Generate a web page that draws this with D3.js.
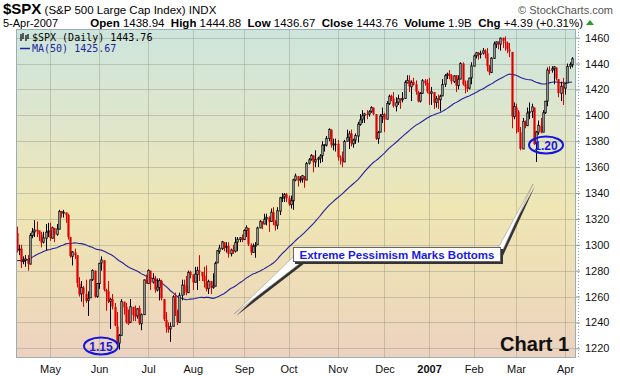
<!DOCTYPE html>
<html lang="en">
<head>
<meta charset="UTF-8" />
<script src="https://d3js.org/d3.v7.min.js"></script>
<title>$SPX Daily</title>
<style>
  body { margin: 0; background: #fff; }
  svg { display: block; font-family: "Liberation Sans", Arial, sans-serif; }
</style>
</head>
<body>
<svg width="620" height="376"></svg>
<script>
// daily bars, 7-Apr-2006 .. 5-Apr-2007 (one row per month)
const opens = [
  1309,1296,1297,1287,1288,1289,1285,1307,1310,1311,1311,1308,1302,1305,1310,
  1311,1305,1313,1308,1312,1326,1325,1325,1323,1306,1291,1294,1292,1270,1262,1267,1262,1257,1259,1273,1280,1260,
  1270,1286,1288,1265,1264,1256,1258,1252,1237,1224,1230,1256,1252,1240,1240,1252,1246,1245,1251,1239,1246,1273,
  1270,1280,1271,1274,1265,1267,1272,1258,1242,1236,1235,1237,1260,1249,1240,1261,1269,1268,1263,1279,
  1277,1271,1277,1280,1279,1276,1271,1266,1272,1267,1268,1286,1295,1297,1302,1298,1299,1293,1296,1295,1302,1304,1305,
  1304,1311,1313,1300,1294,1299,1300,1313,1318,1316,1320,1321,1318,1325,1318,1315,1326,1336,1337,1339,
  1336,1331,1334,1350,1353,1350,1351,1353,1350,1363,1366,1369,1364,1366,1367,1369,1377,1377,1382,1389,1377,1378,
  1378,1368,1367,1364,1380,1383,1386,1378,1381,1384,1393,1397,1400,1401,1401,1403,1406,1401,1382,1387,1399,
  1401,1397,1409,1415,1413,1407,1410,1413,1412,1413,1425,1427,1422,1426,1424,1418,1411,1417,1427,1425,
  1418,1417,1418,1410,1413,1412,1415,1424,1431,1432,1431,1426,1431,1423,1428,1440,1424,1422,1421,1429,
  1438,1446,1448,1447,1448,1450,1448,1438,1433,1444,1455,1457,1455,1460,1457,1456,1451,1449,1399,
  1406,1403,1387,1374,1395,1392,1402,1403,1406,1378,1387,1392,1387,1402,1411,1435,1435,1436,1437,1428,1417,1422,
  1421,1425,1438,1439
];
const highs = [
  1314,1300,1300,1291,1292,1292,1309,1313,1319,1318,1311,1310,1310,1316,1317,
  1317,1314,1313,1316,1327,1326,1327,1325,1324,1306,1295,1297,1292,1275,1272,1268,1273,1264,1273,1281,1280,1270,
  1286,1291,1288,1266,1272,1259,1262,1255,1248,1231,1258,1256,1255,1250,1258,1252,1253,1251,1253,1247,1273,1277,
  1281,1280,1278,1276,1274,1274,1273,1258,1248,1240,1240,1261,1263,1250,1263,1273,1273,1276,1280,1280,
  1277,1283,1283,1292,1279,1283,1284,1273,1272,1278,1287,1296,1300,1303,1302,1302,1302,1297,1300,1306,1306,1306,1308,
  1312,1315,1313,1301,1301,1302,1314,1319,1318,1324,1324,1322,1328,1329,1319,1329,1337,1340,1340,1340,
  1338,1338,1351,1355,1353,1353,1354,1353,1364,1367,1370,1369,1373,1368,1370,1380,1377,1384,1390,1389,1382,1382,
  1381,1369,1372,1381,1389,1388,1389,1382,1386,1395,1401,1404,1402,1404,1404,1407,1406,1401,1388,1401,1406,
  1402,1411,1416,1416,1418,1414,1416,1413,1418,1427,1431,1431,1427,1429,1427,1419,1418,1428,1428,1428,
  1429,1422,1418,1415,1416,1416,1428,1432,1433,1435,1432,1431,1431,1431,1441,1441,1427,1427,1429,1441,
  1447,1449,1449,1450,1452,1451,1452,1439,1445,1457,1457,1457,1460,1460,1461,1457,1456,1449,1410,
  1409,1404,1391,1398,1396,1406,1410,1409,1406,1388,1396,1398,1404,1411,1437,1438,1438,1438,1437,1428,1426,1429,
  1425,1440,1441,1445
];
const lows = [
  1294,1292,1282,1285,1283,1280,1285,1305,1306,1306,1303,1298,1301,1296,1306,
  1303,1305,1302,1307,1312,1321,1321,1317,1304,1290,1284,1289,1267,1260,1256,1252,1255,1245,1259,1272,1259,1259,
  1266,1280,1264,1249,1255,1235,1250,1237,1223,1219,1230,1246,1239,1238,1240,1241,1241,1243,1238,1234,1246,1270,
  1270,1265,1270,1263,1264,1257,1257,1241,1232,1232,1225,1237,1245,1238,1240,1257,1261,1261,1263,1274,
  1265,1271,1265,1272,1272,1267,1264,1262,1262,1266,1268,1286,1293,1296,1295,1294,1290,1291,1293,1294,1295,1302,1302,
  1304,1306,1299,1292,1294,1290,1300,1313,1312,1316,1315,1310,1318,1315,1311,1312,1323,1333,1333,1333,
  1330,1328,1327,1349,1345,1348,1348,1344,1350,1362,1365,1356,1360,1360,1363,1364,1372,1376,1380,1375,1373,1372,
  1365,1362,1360,1364,1380,1374,1376,1375,1378,1379,1392,1394,1394,1397,1399,1402,1400,1381,1378,1387,1394,
  1387,1397,1408,1411,1406,1403,1408,1405,1410,1413,1425,1418,1411,1423,1416,1410,1410,1417,1423,1417,
  1408,1408,1405,1406,1405,1403,1415,1422,1428,1428,1424,1425,1418,1420,1428,1423,1417,1418,1420,1424,
  1438,1444,1443,1444,1447,1444,1434,1431,1433,1444,1452,1451,1450,1452,1450,1448,1445,1390,1397,
  1386,1387,1373,1374,1390,1392,1397,1398,1377,1364,1385,1386,1387,1401,1407,1432,1433,1424,1427,1414,1411,1408,
  1416,1425,1436,1437
];
const closes = [
  1295.50,1296.62,1286.57,1288.12,1289.12,1285.33,1307.28,1309.93,1311.46,1311.28,1308.11,1301.74,1305.41,1309.72,1310.61,
  1305.19,1313.21,1307.85,1312.25,1325.76,1324.66,1325.14,1322.85,1305.92,1291.24,1294.50,1292.08,1270.32,1261.81,1267.03,1262.07,1256.58,1258.57,1272.88,1280.16,1259.87,1270.09,
  1285.71,1288.22,1265.29,1263.85,1256.15,1257.93,1252.30,1237.44,1223.69,1230.04,1256.16,1251.54,1240.13,1240.12,1252.20,1245.60,1244.50,1250.56,1239.20,1246.00,1272.87,1270.20,
  1280.19,1270.91,1274.08,1265.48,1267.34,1272.43,1258.60,1242.29,1236.20,1234.49,1236.86,1259.81,1249.13,1240.29,1260.91,1268.88,1268.40,1263.20,1278.55,1276.66,
  1270.92,1277.41,1280.27,1279.36,1275.77,1271.48,1265.95,1271.81,1266.74,1268.21,1285.58,1295.43,1297.48,1302.30,1297.52,1298.82,1292.99,1296.06,1295.09,1301.78,1304.28,1305.37,1303.82,
  1311.01,1313.25,1300.26,1294.02,1298.92,1299.54,1313.00,1318.07,1316.28,1319.66,1321.18,1317.64,1325.18,1318.03,1314.78,1326.37,1336.35,1336.59,1338.88,1335.85,
  1331.32,1334.11,1350.20,1353.22,1349.59,1350.66,1353.42,1349.95,1362.83,1365.62,1369.06,1364.05,1365.80,1366.96,1368.60,1377.02,1377.38,1382.22,1389.08,1377.34,1377.93,1377.94,
  1367.81,1367.34,1364.30,1379.78,1382.84,1385.72,1378.33,1380.90,1384.42,1393.22,1396.57,1399.76,1401.20,1400.50,1402.81,1406.09,1400.95,1381.96,1386.72,1399.48,1400.63,
  1396.71,1409.12,1414.76,1412.90,1407.29,1409.84,1413.04,1411.56,1413.21,1425.49,1427.09,1422.48,1425.55,1423.53,1418.30,1410.76,1416.90,1426.84,1424.73,1418.30,
  1416.60,1418.34,1409.71,1412.84,1412.11,1414.85,1423.82,1430.73,1431.90,1430.62,1426.37,1430.50,1422.95,1427.99,1440.13,1423.90,1422.18,1420.62,1428.82,1438.24,
  1445.94,1448.39,1446.99,1448.00,1450.02,1448.31,1438.06,1433.37,1444.26,1455.30,1456.81,1455.54,1459.68,1457.63,1456.38,1451.19,1449.37,1399.04,1406.82,
  1403.17,1387.17,1374.12,1395.41,1391.97,1401.89,1402.84,1406.60,1377.95,1387.17,1392.28,1386.95,1402.06,1410.94,1435.04,1434.54,1436.11,1437.50,1428.61,1417.23,1422.53,1420.86,
  1424.55,1437.77,1439.37,1443.76
];
// 49 closes before the first bar, only used to seed the MA(50)
const priorCloses = [
  1283.72,1285.19,1280.08,
  1282.46,1270.84,1264.03,1265.02,1254.78,1265.65,1263.78,1266.99,1262.86,1275.53,1280.00,1289.38,1287.24,1283.03,1292.67,1287.79,1289.43,1294.12,1280.66,
  1291.24,1289.14,1287.23,1278.26,1275.88,1278.47,1272.23,1281.42,1284.13,1297.48,1303.02,1305.33,1307.25,1305.08,1297.23,1305.04,1301.67,1302.95,1301.61,1293.23,1302.89,1300.25,1294.87,
  1297.81,1305.93,1311.56,1309.04
];
const monthLabels = ["May", "Jun", "Jul", "Aug", "Sep", "Oct", "Nov", "Dec", "2007", "Feb", "Mar", "Apr"];
const monthStarts = [15, 37, 59, 79, 102, 122, 144, 165, 185, 205, 224, 246];
const priceTicks = [1220, 1240, 1260, 1280, 1300, 1320, 1340, 1360, 1380, 1400, 1420, 1440, 1460];

const svg = d3.select("svg");

// plot frame
const frame = { left: 16, top: 29, right: 576, bottom: 358 };
const width = frame.right - frame.left;
const height = frame.bottom - frame.top;

const x = d3.scaleLinear().domain([-0.25, closes.length + 0.9]).range([0, width]);
const y = d3.scaleLinear().domain([1220, 1460]).range([319.3, 8.7]);

// background gradient
const defs = svg.append("defs");
const grad = defs.append("linearGradient")
  .attr("id", "bg").attr("x1", 0).attr("y1", 0).attr("x2", 0).attr("y2", 1);
[[0, "#cde5dd"], [0.28, "#dfe6cc"], [0.55, "#efe6b4"], [0.8, "#eedcb8"], [1, "#ecd2c0"]]
  .forEach(([o, c]) => grad.append("stop").attr("offset", o).attr("stop-color", c));

const chart = svg.append("g")
  .attr("transform", `translate(${frame.left},${frame.top})`);

chart.append("rect")
  .attr("width", width).attr("height", height)
  .attr("fill", "url(#bg)");

// grid
chart.append("g")
  .selectAll("line")
  .data(priceTicks)
  .join("line")
  .attr("x1", 0).attr("x2", width)
  .attr("y1", d => Math.round(y(d)) + 0.5).attr("y2", d => Math.round(y(d)) + 0.5)
  .attr("stroke", "#8c8c78").attr("stroke-opacity", 0.38);

chart.append("g")
  .selectAll("line")
  .data(monthStarts)
  .join("line")
  .attr("x1", d => Math.round(x(d)) + 0.5).attr("x2", d => Math.round(x(d)) + 0.5)
  .attr("y1", 0).attr("y2", height)
  .attr("stroke", "#8c8c78").attr("stroke-opacity", 0.38);

// MA(50)
const allCloses = priorCloses.concat(closes);
const ma = closes.map((c, i) => d3.mean(allCloses.slice(i, i + 50)));
chart.append("path")
  .datum(ma)
  .attr("fill", "none")
  .attr("stroke", "#22229a")
  .attr("stroke-width", 1.1)
  .attr("d", d3.line().x((d, i) => x(i)).y(d => y(d)));

// candles
const bars = closes.map((c, i) => ({
  i, o: opens[i], h: highs[i], l: lows[i], c,
  prev: i === 0 ? priorCloses[priorCloses.length - 1] : closes[i - 1]
}));
const candle = chart.append("g")
  .selectAll("g")
  .data(bars)
  .join("g")
  .attr("transform", d => `translate(${Math.round(x(d.i))},0)`);

const colorOf = d => d.c >= d.prev ? "#000" : "#e00000";

candle.append("line")
  .attr("x1", 0.5).attr("x2", 0.5)
  .attr("y1", d => y(d.h)).attr("y2", d => y(d.l))
  .attr("stroke", colorOf);

candle.append("rect")
  .attr("x", d => d.c > d.o ? -0.2 : -0.6)
  .attr("width", d => d.c > d.o ? 1.4 : 2.2)
  .attr("y", d => y(Math.max(d.o, d.c)))
  .attr("height", d => Math.max(1, Math.abs(y(d.o) - y(d.c))))
  .attr("fill", d => d.c > d.o ? "#fff" : colorOf(d))
  .attr("stroke", d => d.c > d.o ? colorOf(d) : "none")
  .attr("stroke-width", 0.9);

// frame border
chart.append("rect")
  .attr("x", 0.5).attr("y", 0.5)
  .attr("width", width - 1).attr("height", height - 1)
  .attr("fill", "none").attr("stroke", "#9aaeb4");

// right axis
const yAxis = chart.append("g")
  .attr("transform", `translate(${width},0)`)
  .call(d3.axisRight(y).tickValues(priceTicks).tickSize(4).tickPadding(5).tickFormat(d3.format("d")));
yAxis.select(".domain").remove();
yAxis.selectAll("line").attr("stroke", "#7f9aa2");
yAxis.selectAll("text").attr("font-size", 11).attr("fill", "#111")
  .attr("font-family", "Liberation Sans, Arial, sans-serif");
chart.append("line")
  .attr("x1", width + 2.5).attr("x2", width + 2.5)
  .attr("y1", 0).attr("y2", height)
  .attr("stroke", "#8aa2aa").attr("stroke-dasharray", "1,2");

// bottom axis labels
const xAxis = chart.append("g")
  .attr("transform", `translate(0,${height})`)
  .call(d3.axisBottom(x).tickValues(monthStarts).tickSize(0).tickPadding(7)
    .tickFormat((d, i) => monthLabels[i]));
xAxis.select(".domain").remove();
xAxis.selectAll("text").attr("font-size", 11).attr("fill", "#111")
  .attr("font-family", "Liberation Sans, Arial, sans-serif")
  .attr("font-weight", (d, i) => monthLabels[i] === "2007" ? "bold" : "normal");

// header
const head = svg.append("text").attr("x", 3).attr("y", 14).attr("fill", "#000");
head.append("tspan").attr("font-size", 15).attr("font-weight", "bold").text("$SPX");
head.append("tspan").attr("font-size", 11.5).text(" (S&P 500 Large Cap Index) INDX");

svg.append("text")
  .attr("x", 613).attr("y", 14).attr("text-anchor", "end")
  .attr("font-size", 11).attr("fill", "#555")
  .text("\u00a9 StockCharts.com");

svg.append("text").attr("x", 3).attr("y", 26.5).attr("font-size", 11).text("5-Apr-2007");

const quote = svg.append("text")
  .attr("x", 583).attr("y", 26.5).attr("text-anchor", "end").attr("font-size", 11.5);
[["Open", true], [" 1438.94  ", false], ["High", true], [" 1444.88  ", false],
 ["Low", true], [" 1436.67  ", false], ["Close", true], [" 1443.76  ", false],
 ["Volume", true], [" 1.9B  ", false], ["Chg", true], [" +4.39 (+0.31%)", false]]
  .forEach(([t, b]) => quote.append("tspan")
    .attr("font-weight", b ? "bold" : "normal")
    .attr("xml:space", "preserve")
    .text(t));
svg.append("path").attr("d", "M586,25 L594,25 L590,20 Z").attr("fill", "#2a9a2a");

// legend
const legend = svg.append("g").attr("font-family", "DejaVu Sans Mono, monospace").attr("font-size", 10);
legend.append("path")
  .attr("d", "M21,34v7M23,33v6M26,35v6M28,34v5")
  .attr("stroke", "#000").attr("stroke-width", 1.2);
legend.append("text").attr("x", 32).attr("y", 41).attr("fill", "#000").text("$SPX (Daily) 1443.76");
legend.append("line").attr("x1", 20).attr("x2", 30).attr("y1", 48.5).attr("y2", 48.5)
  .attr("stroke", "#22229a").attr("stroke-width", 1.5);
legend.append("text").attr("x", 32).attr("y", 52).attr("fill", "#22229a").text("MA(50) 1425.67");

// annotations
const ann = svg.append("g");

function callout(points) {
  ann.append("polygon")
    .attr("points", points.map(p => [p[0] + 2, p[1] + 2].join(",")).join(" "))
    .attr("fill", "#333");
  ann.append("polygon")
    .attr("points", points.map(p => p.join(",")).join(" "))
    .attr("fill", "#fff").attr("stroke", "#999").attr("stroke-width", 0.6);
}
callout([[234, 314], [293, 257], [303, 261]]);
callout([[491, 261], [500, 256], [533, 184]]);

ann.append("rect").attr("x", 295).attr("y", 249).attr("width", 208).attr("height", 15).attr("fill", "#333");
ann.append("rect").attr("x", 293.5).attr("y", 247.5).attr("width", 207).attr("height", 14)
  .attr("fill", "#fff").attr("stroke", "#666");
ann.append("text")
  .attr("x", 397).attr("y", 259).attr("text-anchor", "middle")
  .attr("font-size", 11.5).attr("font-weight", "bold").attr("fill", "#1a1ae0")
  .text("Extreme Pessimism Marks Bottoms");

[[101, 346, "1.15"], [546, 145, "1.20"]].forEach(([cx, cy, t]) => {
  ann.append("ellipse")
    .attr("cx", cx).attr("cy", cy).attr("rx", 17).attr("ry", 8.5)
    .attr("fill", "none").attr("stroke", "#1515e0").attr("stroke-width", 2);
  ann.append("text")
    .attr("x", cx).attr("y", cy + 4.5).attr("text-anchor", "middle")
    .attr("font-size", 12).attr("font-weight", "bold").attr("fill", "#1a1ae0")
    .text(t);
});

svg.append("text")
  .attr("x", 569).attr("y", 351).attr("text-anchor", "end")
  .attr("font-size", 20).attr("font-weight", "bold").attr("fill", "#111")
  .text("Chart 1");
</script>
</body>
</html>
